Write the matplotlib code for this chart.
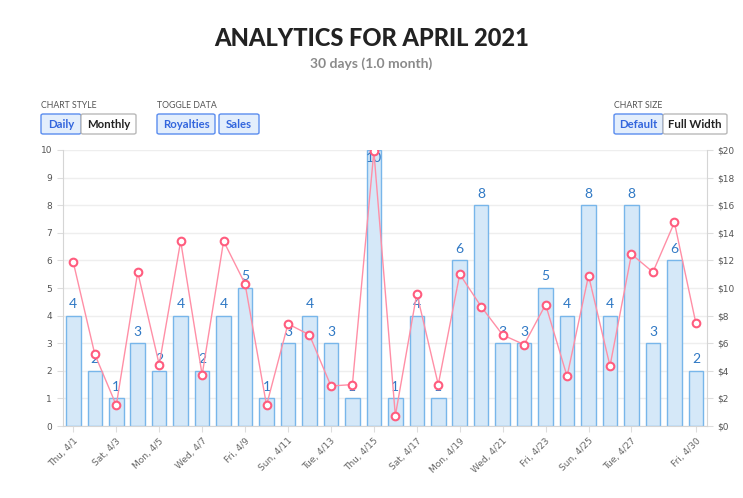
import numpy as np
from matplotlib import pyplot as plt
from matplotlib.patches import FancyBboxPatch

days = ['Thu, 4/1', 'Fri, 4/2', 'Sat, 4/3', 'Sun, 4/4', 'Mon, 4/5', 'Tue, 4/6',
        'Wed, 4/7', 'Thu, 4/8', 'Fri, 4/9', 'Sat, 4/10', 'Sun, 4/11', 'Mon, 4/12',
        'Tue, 4/13', 'Wed, 4/14', 'Thu, 4/15', 'Fri, 4/16', 'Sat, 4/17', 'Sun, 4/18',
        'Mon, 4/19', 'Tue, 4/20', 'Wed, 4/21', 'Thu, 4/22', 'Fri, 4/23', 'Sat, 4/24',
        'Sun, 4/25', 'Mon, 4/26', 'Tue, 4/27', 'Wed, 4/28', 'Thu, 4/29', 'Fri, 4/30']
royalties = [4, 2, 1, 3, 2, 4, 2, 4, 5, 1, 3, 4, 3, 1, 10,
             1, 4, 1, 6, 8, 3, 3, 5, 4, 8, 4, 8, 3, 6, 2]
sales = [11.85, 5.2, 1.5, 11.15, 4.45, 13.4, 3.7, 13.4, 10.3, 1.5, 7.4, 6.6, 2.9, 3.0, 19.9,
         0.75, 9.6, 3.0, 11.0, 8.65, 6.6, 5.9, 8.8, 3.6, 10.9, 4.35, 12.45, 11.15, 14.75, 7.45]
shown_ticks = [0, 2, 4, 6, 8, 10, 12, 14, 16, 18, 20, 22, 24, 26, 29]

W, H = 743, 498
fig = plt.figure(figsize=(W / 100, H / 100), dpi=100)


def px(x, y):
    # pixel coords (top-left origin) -> figure fraction
    return x / W, 1 - y / H


def button(x0, x1, y0, y1, label, active):
    fx, fy = px(x0, y1)
    w, h = (x1 - x0) / W, (y1 - y0) / H
    fc = '#e3eefc' if active else 'white'
    ec = '#5b8def' if active else '#b9b9b9'
    fig.add_artist(FancyBboxPatch((fx, fy), w, h, boxstyle='round,pad=0,rounding_size=0.003',
                                  transform=fig.transFigure, fc=fc, ec=ec, lw=1))
    cx, cy = px((x0 + x1) / 2, (y0 + y1) / 2)
    fig.text(cx, cy, label, ha='center', va='center', fontsize=8.2, family='Lato',
             weight='bold', color='#3366dd' if active else '#222222')


fig.text(*px(371.5, 38), 'ANALYTICS FOR APRIL 2021', ha='center', va='center',
         fontsize=17, family='Lato', weight='black', color='#222222')
fig.text(*px(371.5, 64), '30 days (1.0 month)', ha='center', va='center',
         fontsize=10, family='Lato', weight='bold', color='#8a8a8a')

for x, label in [(41, 'CHART STYLE'), (157, 'TOGGLE DATA'), (614, 'CHART SIZE')]:
    fig.text(*px(x, 106), label, ha='left', va='center', fontsize=6.3,
             family='Lato', color='#555555')
button(41, 81, 114, 134, 'Daily', True)
button(81, 136, 114, 134, 'Monthly', False)
button(157, 215, 114, 134, 'Royalties', True)
button(219, 259, 114, 134, 'Sales', True)
button(614, 663, 114, 134, 'Default', True)
button(663, 727, 114, 134, 'Full Width', False)

ax = fig.add_axes([62.6 / W, 1 - 426 / H, 644 / W, 276 / H])
x = np.arange(len(days))
ax.bar(x, royalties, width=0.68, color='#d5e8f8', edgecolor='#78b6ea', linewidth=1, zorder=2)
for i, v in enumerate(royalties):
    ax.text(i, min(v + 0.42, 9.7), str(v), ha='center', va='center', fontsize=10,
            family='Lato', color='#2f78c4', zorder=5)

ax.set_xlim(-0.5, len(days) - 0.5)
ax.set_ylim(0, 10)
ax.set_yticks(range(11))
ax.set_xticks(shown_ticks)
ax.set_xticklabels([days[i] for i in shown_ticks], rotation=45, ha='right',
                   rotation_mode='anchor', fontsize=6.5, color='#666666')
ax.tick_params(axis='y', labelsize=6.5, labelcolor='#555555', color='#dddddd', length=4)
ax.tick_params(axis='x', color='#dddddd', length=4)
ax.grid(axis='y', color='#eeeeee', linewidth=1, zorder=0)
ax.set_axisbelow(True)
for s in ['top', 'right']:
    ax.spines[s].set_visible(False)
for s in ['left', 'bottom']:
    ax.spines[s].set_color('#d5d5d5')

ax2 = ax.twinx()
ax2.plot(x, sales, color='#ff8fa6', linewidth=1, marker='o', markersize=5.5,
         markerfacecolor='white', markeredgecolor='#ff5c7e', markeredgewidth=1.5, zorder=3)
ax2.set_ylim(0, 20)
ax2.set_yticks(range(0, 21, 2))
ax2.set_yticklabels(['$%d' % v for v in range(0, 21, 2)])
ax2.tick_params(axis='y', labelsize=6.5, labelcolor='#555555', color='#dddddd', length=4)
for s in ['top', 'left', 'bottom']:
    ax2.spines[s].set_visible(False)
ax2.spines['right'].set_color('#d5d5d5')

plt.savefig('out.png', dpi=100)
